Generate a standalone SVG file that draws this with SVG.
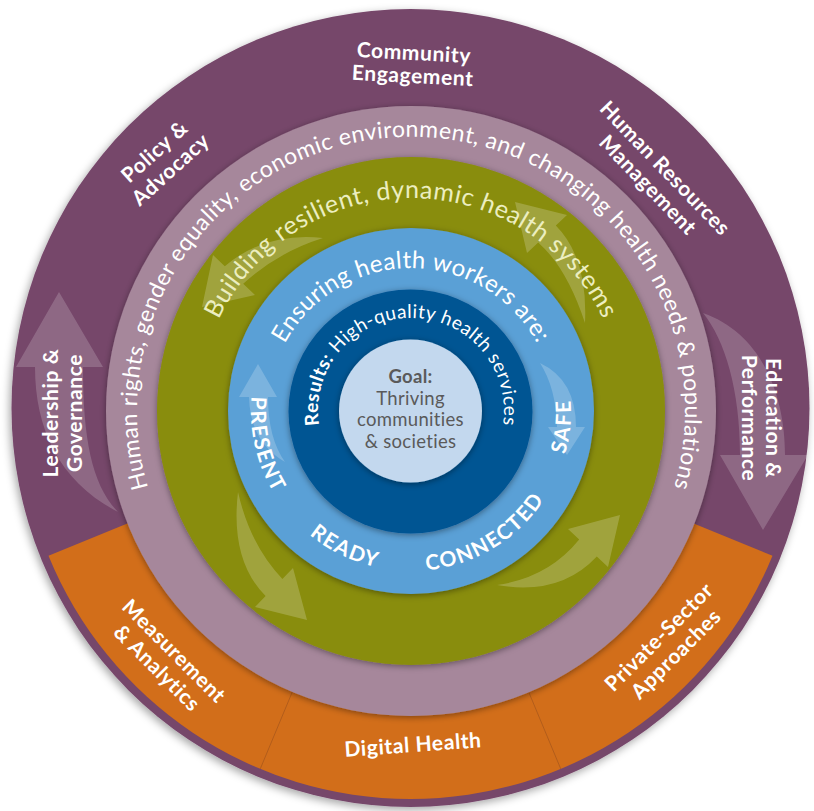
<svg xmlns="http://www.w3.org/2000/svg" width="814" height="811" viewBox="0 0 814 811">
<defs>
<filter id="outerSh" x="-10%" y="-10%" width="120%" height="120%">
<feDropShadow dx="-2" dy="3" stdDeviation="4" flood-color="#000" flood-opacity="0.35"/>
</filter>
<filter id="sh" x="-10%" y="-10%" width="120%" height="120%">
<feDropShadow dx="0" dy="1.5" stdDeviation="3" flood-color="#000" flood-opacity="0.4"/>
</filter>
<path id="mauvePath" d="M 157.0 513.6 A 274 274 0 1 1 665.0 513.6"/>
<path id="greenPath" d="M 210.8 483.8 A 213 213 0 1 1 611.2 483.8"/>
<path id="bluePath" d="M 276.6 460.0 A 143 143 0 1 1 545.4 460.0"/>
<path id="darkPath" d="M 330.5 457.5 A 93 93 0 1 1 491.5 457.5"/>
<path id="bottomPath" d="M 260.65 356.28 A 160 160 0 1 0 561.35 356.28"/>
</defs>
<style>
.lbl{font-family:Lato,"Open Sans",sans-serif;font-weight:700;font-size:21px;fill:#fff;text-anchor:middle;letter-spacing:0.6px}
.arc{font-family:Lato,"Open Sans",sans-serif;fill:#fff;text-anchor:middle}
.word{font-family:Lato,"Open Sans",sans-serif;font-weight:700;font-size:21px;fill:#fff;text-anchor:middle;letter-spacing:1.5px}
.goal{font-family:Lato,"Open Sans",sans-serif;font-size:18.5px;fill:#5a5a5a;text-anchor:middle;letter-spacing:0.3px}
.arrP{fill:#fff;fill-opacity:0.18}
.arrG{fill:#fff;fill-opacity:0.2}
.arrB{fill:#fff;fill-opacity:0.2}
</style>

<g id="outer-ring">
<circle cx="410.5" cy="408" r="399" fill="#76476A" filter="url(#outerSh)"/>
</g>

<g id="orange-band">
<path d="M 772.5 555.7 A 391 391 0 0 1 48.5 555.7 L 142 517.6 A 290 290 0 0 0 679 517.6 Z" fill="#D26E1A"/>
<line x1="295.2" y1="685" x2="260.2" y2="769" stroke="#A9581A" stroke-width="0.8"/>
<line x1="525.8" y1="685" x2="560.8" y2="769" stroke="#A9581A" stroke-width="0.8"/>
</g>

<g id="connectors">
<path class="arrP" d="M 118 512 C 60 482 35 430 35 367 L 16 367 L 59 292 L 103 367 L 83 367 C 83 440 92 485 118 512 Z"/>
<path class="arrP" d="M 703 313 C 725 340 740 390 740 455 L 720 455 L 763 530 L 808 455 L 785 455 C 785 400 765 335 703 313 Z"/>
</g>

<g id="mauve-ring">
<circle cx="411" cy="411" r="305" fill="#A6879B" filter="url(#sh)"/>
</g>

<g id="green-ring">
<circle cx="411" cy="411" r="254" fill="#898D0A" filter="url(#sh)"/>
</g>

<g id="green-arrows">
<path class="arrG" d="M 323 238 Q 265 232 224.8 266.2 L 213 255 L 202 307 L 255 295 L 243.2 283.8 Q 278 252 323 238 Z"/>
<path class="arrG" d="M 585 323 Q 567 268 538.2 242.4 L 527 253 L 515 202 L 567 215 L 555.8 225.6 Q 588 258 585 323 Z"/>
<path class="arrG" d="M 238 492 Q 230 560 265.6 596.1 L 255 607 L 307 620 L 293 568 L 282.4 578.9 Q 250 545 238 492 Z"/>
<path class="arrG" d="M 497 585 Q 548 578 579.2 539.6 L 568 529 L 620 515 L 608 567 L 596.8 556.4 Q 560 596 497 585 Z"/>
</g>

<g id="blue-ring">
<circle cx="411" cy="411" r="183" fill="#5AA0D6" filter="url(#sh)"/>
</g>

<g id="blue-arrows">
<path class="arrB" d="M 285 462 Q 250 442 249 397 L 239 397 L 258 364 L 277 397 L 268 397 Q 268 438 285 462 Z"/>
<path class="arrB" d="M 540 363 Q 576 380 576 427 L 585 427 L 567 455 L 548 427 L 557 427 Q 556 388 540 363 Z"/>
</g>

<g id="results-ring">
<circle cx="410.5" cy="411.5" r="122" fill="#005493" filter="url(#sh)"/>
</g>

<g id="goal">
<circle cx="410.5" cy="411" r="71.5" fill="#C3D8EE" filter="url(#sh)"/>
<text class="goal" x="410.5" y="383" font-weight="700">Goal:</text>
<text class="goal" x="410.5" y="405">Thriving</text>
<text class="goal" x="410.5" y="426">communities</text>
<text class="goal" x="410.5" y="448">&amp; societies</text>
</g>

<g id="ring-texts">
<text class="arc" font-size="23" letter-spacing="0.5"><textPath href="#mauvePath" startOffset="50%">Human rights, gender equality, economic environment, and changing health needs &amp; populations</textPath></text>
<text class="arc" font-size="25" style="fill:#ECEEC0" letter-spacing="0.6"><textPath href="#greenPath" startOffset="50%">Building resilient, dynamic health systems</textPath></text>
<text class="arc" font-size="24" letter-spacing="0.4"><textPath href="#bluePath" startOffset="50%">Ensuring health workers are:</textPath></text>
<text class="arc" font-size="19" letter-spacing="0.5"><textPath href="#darkPath" startOffset="50%"><tspan font-weight="700">Results:</tspan> High-quality health services</textPath></text>
</g>

<g id="worker-words">
<text class="word"><textPath href="#bottomPath" startOffset="92">PRESENT</textPath></text>
<text class="word"><textPath href="#bottomPath" startOffset="235">READY</textPath></text>
<text class="word"><textPath href="#bottomPath" startOffset="394">CONNECTED</textPath></text>
<text class="word"><textPath href="#bottomPath" startOffset="542">SAFE</textPath></text>
</g>

<g id="community-engagement" transform="translate(413,71) rotate(3)">
<text class="lbl" y="-11">Community</text>
<text class="lbl" y="12">Engagement</text>
</g>
<g id="policy-advocacy" transform="translate(162,160) rotate(-42)">
<text class="lbl" y="-4">Policy &amp;</text>
<text class="lbl" y="20">Advocacy</text>
</g>
<g id="human-resources" transform="translate(657,176) rotate(46)">
<text class="lbl" y="-4">Human Resources</text>
<text class="lbl" y="20">Management</text>
</g>
<g id="leadership-governance" transform="translate(62,413) rotate(-90)">
<text class="lbl" y="-4">Leadership &amp;</text>
<text class="lbl" y="20">Governance</text>
</g>
<g id="education-performance" transform="translate(762,418) rotate(90)">
<text class="lbl" y="-4">Education &amp;</text>
<text class="lbl" y="20">Performance</text>
</g>
<g id="measurement-analytics" transform="translate(166,659) rotate(45)">
<text class="lbl" y="-4">Measurement</text>
<text class="lbl" y="20">&amp; Analytics</text>
</g>
<g id="digital-health" transform="translate(413,745) rotate(-4)">
<text class="lbl" y="7">Digital Health</text>
</g>
<g id="private-sector" transform="translate(667,645) rotate(-45)">
<text class="lbl" y="-4">Private-Sector</text>
<text class="lbl" y="20">Approaches</text>
</g>
</svg>
